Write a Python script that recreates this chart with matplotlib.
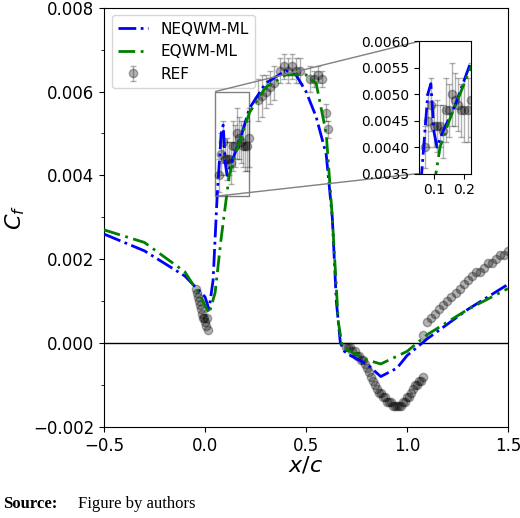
import matplotlib.pyplot as plt
from mpl_toolkits.axes_grid1.inset_locator import mark_inset

# NEQWM-ML curve
x_neq = [-0.5, -0.3, -0.1, 0.0, 0.02, 0.04, 0.06, 0.08, 0.09, 0.1, 0.11, 0.13, 0.17, 0.22,
         0.3, 0.4, 0.45, 0.5, 0.55, 0.6, 0.63, 0.65, 0.67, 0.69, 0.72, 0.8, 0.87, 0.95,
         1.0, 1.1, 1.3, 1.5]
cf_neq = [0.0026, 0.0022, 0.0016, 0.0011, 0.0008, 0.0015, 0.0035, 0.0050, 0.0052, 0.0043,
          0.0040, 0.0043, 0.0048, 0.0056, 0.0062, 0.0065, 0.0064, 0.0060, 0.0054, 0.0045,
          0.0030, 0.0010, 0.0000, -0.0002, -0.0003, -0.0005, -0.0008, -0.0006, -0.0003,
          0.0001, 0.0008, 0.0014]

# EQWM-ML curve
x_eq = [-0.5, -0.3, -0.1, -0.02, 0.02, 0.05, 0.08, 0.12, 0.15, 0.22, 0.3, 0.4, 0.5, 0.55,
        0.6, 0.63, 0.66, 0.68, 0.72, 0.8, 0.87, 1.0, 1.1, 1.3, 1.5]
cf_eq = [0.0027, 0.0024, 0.0017, 0.0011, 0.0007, 0.0012, 0.0025, 0.0040, 0.0045, 0.0055,
         0.0061, 0.0064, 0.0064, 0.0062, 0.0050, 0.0030, 0.0005, -0.0001, -0.0002, -0.0004,
         -0.0005, -0.0002, 0.0002, 0.0008, 0.0013]

# reference data with error bars (upper surface)
x_ref_e = [0.07, 0.08, 0.09, 0.10, 0.11, 0.12, 0.13, 0.14, 0.15, 0.16, 0.17, 0.18, 0.19, 0.20,
           0.21, 0.22, 0.26, 0.28, 0.30, 0.32, 0.34, 0.37, 0.39, 0.41, 0.43, 0.45, 0.47,
           0.52, 0.54, 0.56, 0.58, 0.60, 0.61]
cf_ref_e = [0.0040, 0.0045, 0.0048, 0.0044, 0.0044, 0.0044, 0.0043, 0.0047, 0.0047, 0.0050,
            0.0049, 0.0048, 0.0047, 0.0047, 0.0047, 0.0049, 0.0058, 0.0059, 0.0060, 0.0061,
            0.0062, 0.0065, 0.0066, 0.0065, 0.0066, 0.0065, 0.0065, 0.0063, 0.0063,
            0.0064, 0.0063, 0.0055, 0.0051]
err_ref = [0.0004, 0.0005, 0.0005, 0.0004, 0.0005, 0.0004, 0.0005, 0.0006, 0.0005, 0.0006,
           0.0005, 0.0005, 0.0005, 0.0006, 0.0006, 0.0007, 0.0005, 0.0005, 0.0004, 0.0004,
           0.0004, 0.0003, 0.0003, 0.0003, 0.0003, 0.0003, 0.0003, 0.0003, 0.0002,
           0.0002, 0.0002, 0.0002, 0.0002]

# reference data without error bars
x_ref = [-0.045, -0.04, -0.035, -0.03, -0.025, -0.02, -0.015, -0.01, -0.005, 0.0, 0.005,
         0.01, 0.015,
         0.70, 0.71, 0.72, 0.73, 0.74, 0.75, 0.76, 0.77, 0.78, 0.79, 0.80, 0.81, 0.82,
         0.83, 0.84, 0.85, 0.86, 0.87, 0.88, 0.89, 0.90, 0.91, 0.92, 0.93, 0.94, 0.95,
         0.96, 0.97, 0.98, 0.99, 1.00, 1.01, 1.02, 1.03, 1.04, 1.05, 1.06, 1.07, 1.08,
         1.08, 1.10, 1.12, 1.14, 1.16, 1.18, 1.20, 1.22, 1.24, 1.26, 1.28, 1.30, 1.32,
         1.34, 1.36, 1.38, 1.40, 1.42, 1.44, 1.46, 1.48, 1.50]
cf_ref = [0.0013, 0.0012, 0.0011, 0.0010, 0.0009, 0.0008, 0.0007, 0.0006, 0.0006, 0.0005,
          0.0004, 0.0006, 0.0003,
          -0.0001, -0.0001, -0.0001, -0.0002, -0.0002, -0.0003, -0.0003, -0.0004, -0.0004,
          -0.0005, -0.0006, -0.0007, -0.0008, -0.0009, -0.0010, -0.0011, -0.0012, -0.0012,
          -0.0013, -0.0013, -0.0014, -0.0014, -0.0014, -0.0015, -0.0015, -0.0015,
          -0.0015, -0.0015, -0.0014, -0.0014, -0.0013, -0.0013, -0.0012, -0.0011,
          -0.0010, -0.0010, -0.0009, -0.0009, -0.0008,
          0.0002, 0.0005, 0.0006, 0.0007, 0.0008, 0.0009, 0.0010, 0.0011, 0.0012, 0.0013,
          0.0014, 0.0015, 0.0016, 0.0017, 0.0017, 0.0018, 0.0019, 0.0019, 0.0020, 0.0021,
          0.0021, 0.0022]

fig = plt.figure(figsize=(5.2, 5.18), dpi=100)
ax = fig.add_axes([0.2, 0.176, 0.777, 0.809])


def draw(a, lw=2):
    a.plot(x_neq, cf_neq, color='blue', ls='-.', lw=lw, label='NEQWM-ML', zorder=3)
    a.plot(x_eq, cf_eq, color='green', ls=(0, (6, 2, 1, 2)), lw=lw, label='EQWM-ML', zorder=3)
    a.errorbar(x_ref_e, cf_ref_e, yerr=err_ref, fmt='o', color='black', alpha=0.3,
               ms=6, capsize=2, elinewidth=1, label='REF')
    a.plot(x_ref, cf_ref, 'o', color='black', alpha=0.3, ms=6)


draw(ax)
ax.axhline(0, color='black', lw=1)
ax.set_xlim(-0.5, 1.5)
ax.set_ylim(-0.002, 0.008)
ax.set_xticks([-0.5, 0.0, 0.5, 1.0, 1.5])
ax.set_yticks([-0.002, 0.0, 0.002, 0.004, 0.006, 0.008])
ax.set_yticklabels(['\u22120.002', '0.000', '0.002', '0.004', '0.006', '0.008'])
ax.set_yticks([-0.001, 0.001, 0.003, 0.005, 0.007], minor=True)
ax.tick_params(labelsize=12)
ax.set_xlabel('$x/c$', fontsize=16, labelpad=0)
ax.set_ylabel('$C_f$', fontsize=16)
ax.legend(loc='upper left', fontsize=11)

axins = fig.add_axes([0.805, 0.665, 0.1, 0.255])
draw(axins)
axins.set_xlim(0.05, 0.22)
axins.set_ylim(0.0035, 0.006)
axins.set_xticks([0.1, 0.2])
axins.set_xticklabels(['0.1', '0.2'])
axins.set_yticks([0.0035, 0.004, 0.0045, 0.005, 0.0055, 0.006])
axins.tick_params(labelsize=10)
mark_inset(ax, axins, loc1=2, loc2=3, fc='none', ec='0.5')

fig.text(0.005, 0.02, 'Source:', fontsize=12, weight='bold', family='Liberation Serif')
fig.text(0.15, 0.02, 'Figure by authors', fontsize=12, family='Liberation Serif')
fig.savefig('out.png')
